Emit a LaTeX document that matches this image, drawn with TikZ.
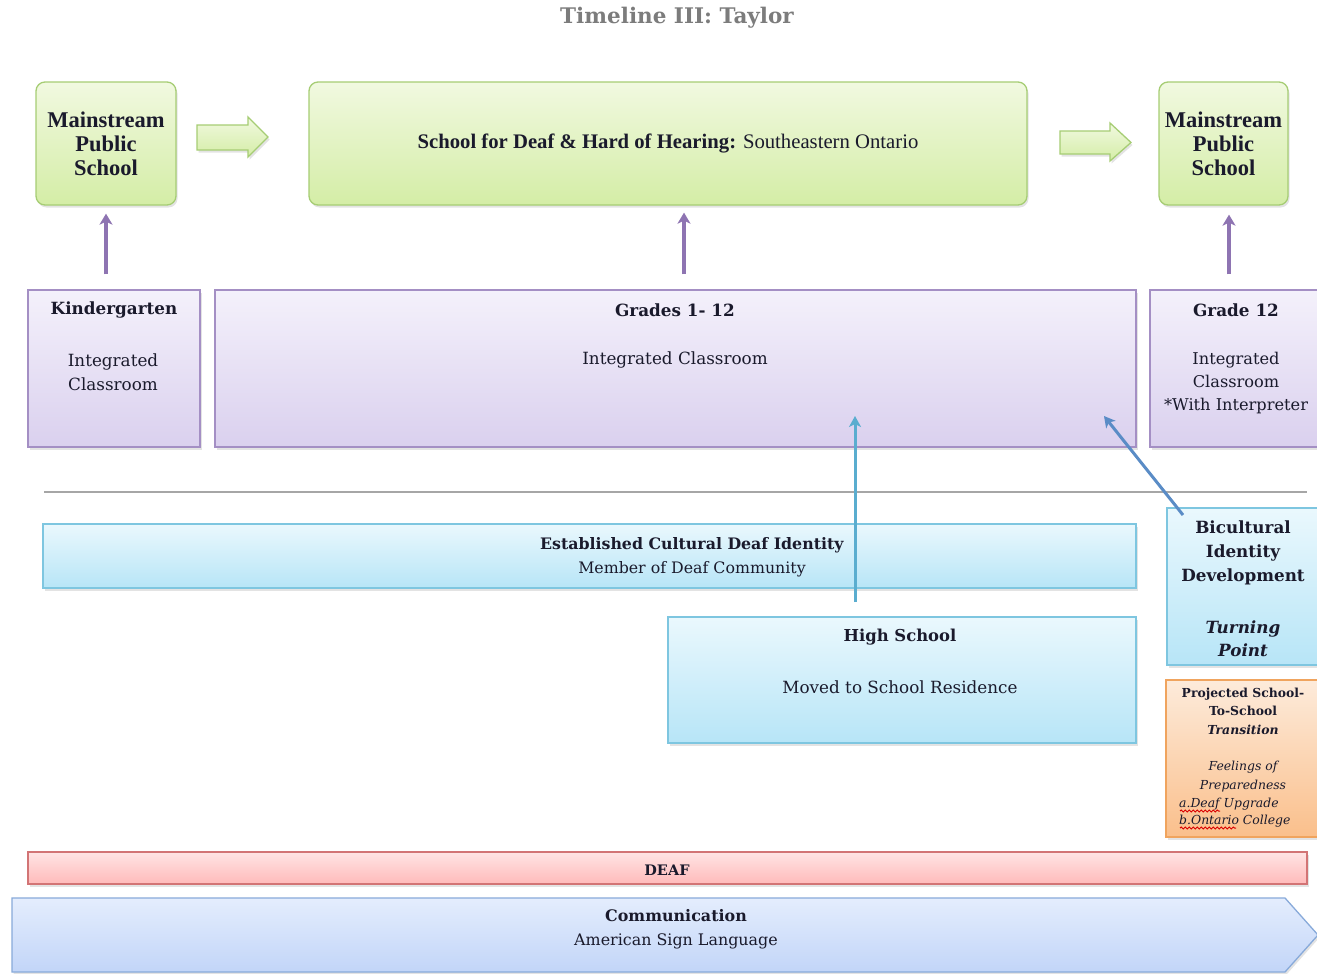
\documentclass[tikz,border=0pt]{standalone}
\usepackage{fontspec}
\setmainfont{Liberation Serif}
\newfontfamily\camb{DejaVu Serif}
\usetikzlibrary{shadows,arrows.meta,decorations.pathmorphing}
\definecolor{ink}{HTML}{1A1A2C}
\definecolor{titlegray}{HTML}{7C7C7C}
\definecolor{grTop}{HTML}{F1F9E0}
\definecolor{grBot}{HTML}{D4EDA6}
\definecolor{grLine}{HTML}{A6CD74}
\definecolor{puTop}{HTML}{F4F1FB}
\definecolor{puBot}{HTML}{DAD0EE}
\definecolor{puLine}{HTML}{A48FC4}
\definecolor{puArrow}{HTML}{8E74B2}
\definecolor{cyTop}{HTML}{EAF8FD}
\definecolor{cyBot}{HTML}{B7E5F7}
\definecolor{cyLine}{HTML}{7EC6E0}
\definecolor{orTop}{HTML}{FDEBDB}
\definecolor{orBot}{HTML}{FABF8B}
\definecolor{orLine}{HTML}{F0A45E}
\definecolor{rdTop}{HTML}{FFE4E4}
\definecolor{rdBot}{HTML}{FFBABA}
\definecolor{rdLine}{HTML}{D27475}
\definecolor{blTop}{HTML}{E4EDFD}
\definecolor{blBot}{HTML}{C2D5F8}
\definecolor{blLine}{HTML}{88AADA}
\definecolor{tealA}{HTML}{5AADCF}
\definecolor{steelA}{HTML}{5A8CC6}
\definecolor{sepgray}{HTML}{A6A6A6}
\begin{document}
\begin{tikzpicture}[x=1pt,y=-1pt,
  shad/.style={drop shadow={opacity=0.22,shadow xshift=1.5pt,shadow yshift=-2.5pt}},
  basebox/.style={line width=1.3pt, inner sep=0pt, shad},
  greenbox/.style={basebox, rounded corners=9pt, draw=grLine, top color=grTop, bottom color=grBot,
    font=\fontsize{22.5}{24}\selectfont\bfseries, text=ink, align=center},
  purplebox/.style={basebox, draw=puLine, top color=puTop, bottom color=puBot},
  cyanbox/.style={basebox, draw=cyLine, top color=cyTop, bottom color=cyBot},
  orangebox/.style={basebox, draw=orLine, top color=orTop, bottom color=orBot},
  redbox/.style={basebox, draw=rdLine, top color=rdTop, bottom color=rdBot},
  blockarrow/.style={draw=grLine, line width=1.3pt, top color=grTop, bottom color=grBot, shad},
  hd/.style={font=\camb\fontsize{16.8}{24}\selectfont\bfseries, text=ink, align=center, inner sep=0pt},
  bd/.style={font=\camb\fontsize{16.8}{24}\selectfont, text=ink, align=center, inner sep=0pt},
  parrow/.style={draw=puArrow, line width=3.4pt, -{Stealth[width=13pt,length=11pt,inset=3pt]}},
  tarrow/.style={draw=tealA, line width=3pt, -{Stealth[width=12pt,length=11pt,inset=3pt]}},
  sarrow/.style={draw=steelA, line width=3pt, -{Stealth[width=12pt,length=11pt,inset=3pt]}},
  squig/.style={draw=red!85!black, line width=1pt, decorate, decoration={snake, amplitude=1pt, segment length=4pt}}
]
\clip (0,0) rectangle (1317,974);
\fill[white] (0,0) rectangle (1317,974);

% title
\node[font=\camb\fontsize{21.5}{24}\selectfont\bfseries, text=titlegray, inner sep=0pt] (title) at (677,18) {Timeline III: Taylor};

% top row
\node[greenbox, minimum width=140pt, minimum height=123pt] (mps1) at (106,143.5) {Mainstream\\Public\\School};
\node[greenbox, minimum width=718pt, minimum height=123pt, font=\fontsize{20.7}{23}\selectfont] (sdhh) at (668,143.5)
  {\textbf{School for Deaf \& Hard of Hearing:} Southeastern Ontario};
\node[greenbox, minimum width=129pt, minimum height=123pt] (mps2) at (1223.5,143.5) {Mainstream\\Public\\School};
\path[blockarrow] (197,125) -- (248,125) -- (248,117) -- (268,137) -- (248,157) -- (248,150) -- (197,150) -- cycle;
\path[blockarrow] (1060,131) -- (1110,131) -- (1110,123) -- (1131,142.5) -- (1110,161) -- (1110,154) -- (1060,154) -- cycle;

% purple row
\node[purplebox, minimum width=172pt, minimum height=157pt] (kg) at (114,368.5) {};
\node[purplebox, minimum width=921pt, minimum height=157pt] (grades) at (675.5,368.5) {};
\node[purplebox, minimum width=172pt, minimum height=157pt] (g12) at (1236,368.5) {};

\node[hd] (kgT) at (114,310) {Kindergarten};
\node[bd] (kgB) at (113,372) {Integrated\\Classroom};
\node[hd] (grT) at (675,310) {Grades 1- 12};
\node[bd] (grB) at (675,360) {Integrated Classroom};
\node[hd] (g12T) at (1236,310) {Grade 12};
\node[bd, font=\camb\fontsize{16.2}{23}\selectfont] (g12B) at (1236,383) {Integrated\\Classroom\\*With Interpreter};

% purple arrows
\coordinate (gx) at (684,0);
\coordinate (g12x) at (1229,0);
\draw[parrow, shorten <=15pt, shorten >=8pt] (kg.north -| mps1.south) -- (mps1.south);
\draw[parrow, shorten <=15pt, shorten >=7pt] (grades.north -| gx) -- (sdhh.south -| gx);
\draw[parrow, shorten <=15pt, shorten >=9pt] (g12.north -| g12x) -- (mps2.south -| g12x);

% separator
\coordinate (sepL) at (44,492);
\coordinate (sepR) at (1307,492);
\draw[sepgray, line width=2pt] (sepL) -- (sepR);

% cyan boxes
\node[cyanbox, minimum width=1093pt, minimum height=64pt] (cult) at (589.5,556) {};
\node[bd, font=\camb\fontsize{15.8}{24}\selectfont] (cultT) at (692,557)
  {\textbf{Established Cultural Deaf Identity}\\Member of Deaf Community};
\node[cyanbox, minimum width=468pt, minimum height=126pt] (hs) at (902,680) {};
\node[hd, font=\camb\fontsize{16.4}{24}\selectfont\bfseries] (hsT) at (900,637) {High School};
\node[bd] (hsB) at (900,687) {Moved to School Residence};
\node[cyanbox, minimum width=152pt, minimum height=157pt] (bic) at (1243,586.5) {};
\node[hd] (bicT) at (1243,553) {Bicultural\\Identity\\Development};
\node[hd, font=\camb\fontsize{16.8}{23.5}\selectfont\bfseries\itshape] (bicB) at (1243,638.5) {Turning\\Point};

% orange
\node[orangebox, minimum width=154pt, minimum height=157pt] (proj) at (1243,758.5) {};
\node[bd, font=\camb\fontsize{12.4}{18.3}\selectfont] (projT) at (1243,740)
  {\textbf{Projected School-}\\\textbf{To-School}\\\textbf{\itshape Transition}\\[18.3pt]
   \itshape Feelings of\\\itshape Preparedness};
\node[bd, font=\camb\fontsize{12.4}{17}\selectfont\itshape, align=left, anchor=west] (projL) at (1179,812.5)
  {a.Deaf Upgrade\\b.Ontario College};
\coordinate (sq1a) at (1180,811);
\coordinate (sq1b) at (1220,811);
\coordinate (sq2a) at (1180,828);
\coordinate (sq2b) at (1236,828);
\draw[squig] (sq1a) -- (sq1b);
\draw[squig] (sq2a) -- (sq2b);

% teal arrows
\coordinate (t1s) at (855,602);
\coordinate (t1e) at (855,416);
\draw[tarrow] (t1s) -- (t1e);
\coordinate (t2s) at (1183,515);
\coordinate (t2e) at (1104,416);
\draw[sarrow] (t2s) -- (t2e);

% DEAF bar
\node[redbox, minimum width=1279pt, minimum height=32pt] (deaf) at (667.5,868) {};
\node[hd, font=\camb\fontsize{14.5}{16}\selectfont\bfseries] (deafT) at (667,870) {DEAF};

% communication arrow
\path[line width=1.3pt, draw=blLine, top color=blTop, bottom color=blBot, shad]
  (12,898) -- (1285,898) -- (1318,935) -- (1285,972) -- (12,972) -- cycle;
\node[bd, font=\camb\fontsize{15.9}{24}\selectfont] (comm) at (676,929)
  {\textbf{Communication}\\American Sign Language};
\end{tikzpicture}
\end{document}
